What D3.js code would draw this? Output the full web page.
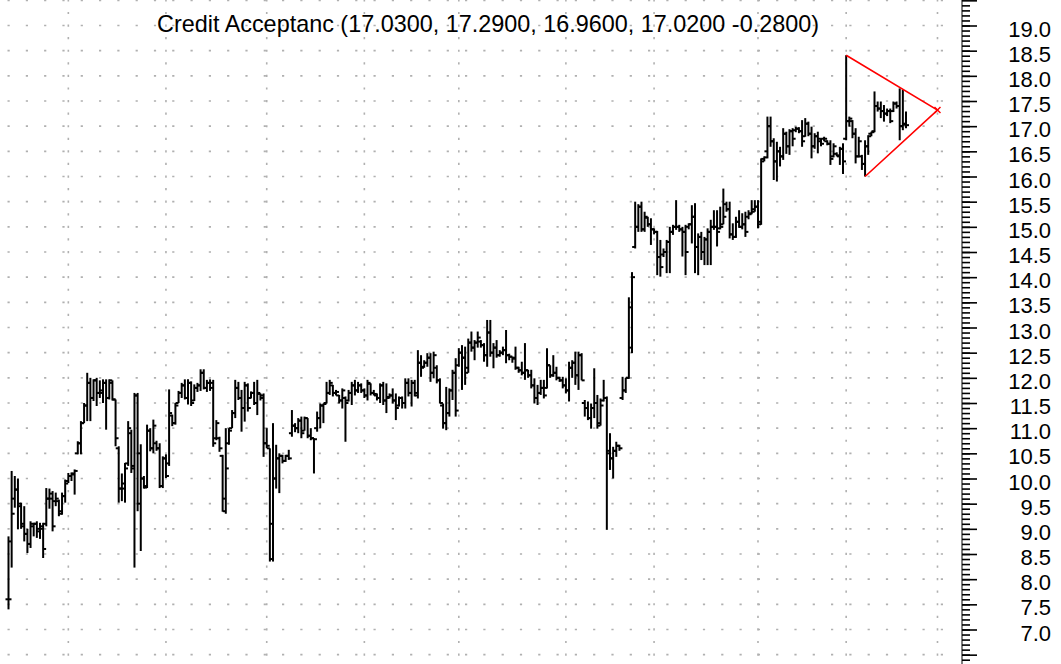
<!DOCTYPE html>
<html>
<head>
<meta charset="utf-8">
<script src="https://cdn.jsdelivr.net/npm/d3@7"></script>
<style>
  body { margin: 0; background: #fff; }
  svg { display: block; }
  text { font-family: "Liberation Sans", Arial, sans-serif; }
</style>
</head>
<body>
<div id="chart"></div>
<script>
// daily bars
var opens = [
  7.60, 8.75, 9.60, 9.78, 9.45, 9.10, 8.90, 8.70, 9.05, 9.10,
  8.95, 9.00, 9.10, 9.60, 9.60, 9.55, 9.55, 9.35, 9.65, 9.95,
  10.05, 10.10, 10.50, 10.70, 11.10, 11.45, 11.90, 11.60, 11.95, 11.70,
  11.70, 11.90, 11.60, 11.90, 11.57, 10.60, 9.80, 9.80, 10.30, 10.90,
  10.25, 11.65, 10.50, 10.00, 9.85, 10.95, 10.60, 10.70, 10.60, 9.85,
  10.40, 10.30, 11.25, 11.10, 11.50, 11.70, 11.85, 11.60, 11.90, 11.55,
  11.80, 11.85, 12.10, 11.80, 11.90, 11.90, 10.80, 10.80, 10.45, 9.35,
  10.70, 11.00, 11.30, 11.80, 11.60, 11.40, 11.85, 11.60, 11.70, 11.50,
  11.68, 11.65, 10.70, 10.60, 8.40, 10.00, 10.40, 10.45, 10.35, 10.45,
  10.90, 11.05, 11.00, 11.15, 10.95, 11.20, 10.85, 10.80, 11.00, 11.20,
  11.45, 11.50, 11.70, 11.85, 11.70, 11.65, 11.55, 11.60, 11.55, 11.70,
  11.85, 11.75, 11.85, 11.75, 11.65, 11.88, 11.70, 11.65, 11.60, 11.85,
  11.55, 11.62, 11.65, 11.55, 11.45, 11.60, 11.50, 11.90, 11.70, 11.90,
  11.65, 12.30, 12.22, 12.30, 12.40, 12.10, 12.20, 11.95, 11.45, 11.10,
  11.30, 11.75, 12.10, 12.25, 12.50, 12.40, 12.20, 12.70, 12.60, 12.70,
  12.72, 12.65, 12.45, 12.90, 12.50, 12.60, 12.45, 12.50, 12.55, 12.45,
  12.42, 12.40, 12.20, 12.15, 12.10, 12.15, 12.05, 11.85, 11.60, 11.70,
  11.80, 11.80, 12.25, 12.05, 12.10, 12.00, 11.95, 11.85, 11.75, 12.20,
  12.30, 12.05, 12.45, 11.50, 11.40, 11.20, 11.40, 11.50, 11.10, 11.55,
  11.60, 10.50, 10.40, 10.55, 10.65, 11.60, 11.75, 12.00, 12.60, 14.60,
  15.00, 15.40, 14.95, 15.18, 15.05, 14.95, 14.90, 14.40, 14.45, 14.50,
  14.70, 14.90, 15.00, 15.00, 14.95, 14.90, 15.00, 15.05, 15.20, 14.60,
  14.80, 14.50, 14.75, 14.90, 15.00, 15.00, 14.97, 15.05, 15.45, 15.35,
  14.85, 14.80, 15.10, 15.00, 15.05, 15.20, 15.27, 15.35, 15.40, 15.10,
  16.35, 16.50, 17.00, 16.70, 16.30, 16.50, 16.40, 16.85, 16.60, 16.90,
  16.92, 16.95, 16.90, 16.80, 17.05, 16.85, 16.60, 16.80, 16.70, 16.75,
  16.70, 16.65, 16.40, 16.45, 16.40, 16.55, 16.75, 17.10, 17.10, 16.85,
  16.40, 16.40, 16.25, 16.60, 16.85, 16.90, 17.40, 17.35, 17.30, 17.25,
  17.30, 17.30, 17.45, 17.40, 17.00, 17.03
];
var highs = [
  8.85, 10.15, 10.05, 10.00, 9.52, 9.45, 9.00, 9.15, 9.12, 9.15,
  9.12, 9.12, 9.81, 9.80, 9.75, 9.72, 9.58, 9.72, 9.98, 10.11,
  10.12, 10.18, 10.74, 11.14, 11.50, 12.10, 12.00, 11.97, 12.00, 11.95,
  11.97, 11.97, 11.97, 11.95, 11.57, 10.64, 10.10, 10.31, 11.14, 10.97,
  11.70, 11.70, 10.68, 10.05, 11.07, 11.00, 11.17, 10.75, 10.70, 10.44,
  10.48, 11.77, 11.27, 11.50, 11.74, 11.90, 11.97, 11.97, 11.93, 11.87,
  11.90, 12.17, 12.17, 11.96, 11.97, 11.96, 11.16, 10.83, 10.47, 11.00,
  11.00, 11.36, 11.96, 11.92, 11.76, 11.92, 11.89, 11.73, 11.92, 11.96,
  11.69, 11.69, 11.00, 10.60, 11.10, 10.67, 10.50, 10.47, 10.47, 10.57,
  11.36, 11.10, 11.20, 11.23, 11.23, 11.20, 11.00, 10.80, 11.33, 11.49,
  11.49, 11.92, 11.96, 11.86, 11.76, 11.66, 11.79, 11.63, 11.76, 11.92,
  11.96, 11.92, 11.89, 11.79, 11.96, 11.89, 11.76, 11.69, 11.89, 11.92,
  11.89, 11.69, 11.79, 11.69, 11.63, 11.63, 11.99, 11.99, 11.96, 11.96,
  12.55, 12.45, 12.35, 12.49, 12.49, 12.52, 12.25, 11.99, 11.49, 11.82,
  11.79, 12.16, 12.39, 12.59, 12.65, 12.62, 12.78, 12.92, 12.75, 12.92,
  12.75, 12.69, 13.15, 13.15, 12.69, 12.75, 12.55, 12.62, 12.95, 12.48,
  12.42, 12.62, 12.22, 12.32, 12.69, 12.16, 12.16, 11.99, 11.86, 11.96,
  11.96, 12.59, 12.25, 12.45, 12.22, 12.02, 12.02, 11.99, 12.32, 12.35,
  12.52, 12.52, 12.49, 11.56, 11.53, 11.49, 12.19, 11.66, 11.59, 11.96,
  11.63, 10.90, 10.63, 10.73, 10.67, 12.02, 12.00, 13.60, 14.10, 15.50,
  15.45, 15.50, 15.30, 15.20, 15.17, 14.97, 14.92, 14.74, 14.57, 14.74,
  15.00, 15.04, 15.53, 15.04, 15.00, 15.04, 15.07, 15.43, 15.47, 14.87,
  14.90, 14.80, 14.97, 15.14, 15.33, 15.33, 15.40, 15.76, 15.50, 15.50,
  15.07, 15.20, 15.33, 15.27, 15.30, 15.33, 15.53, 15.53, 15.53, 16.36,
  16.40, 17.19, 17.19, 16.76, 16.69, 16.59, 16.96, 16.89, 16.94, 16.96,
  16.99, 16.98, 17.12, 17.16, 17.09, 16.99, 16.86, 16.89, 16.76, 16.79,
  16.72, 16.72, 16.66, 16.48, 16.59, 16.66, 18.41, 17.19, 17.12, 16.96,
  16.79, 16.43, 16.72, 16.82, 16.89, 17.69, 17.49, 17.49, 17.42, 17.35,
  17.35, 17.49, 17.49, 17.75, 17.72, 17.29
];
var lows = [
  7.40, 8.23, 9.42, 8.99, 9.00, 8.75, 8.52, 8.62, 8.85, 8.82,
  8.80, 8.42, 9.05, 9.40, 8.95, 9.45, 9.25, 9.28, 9.52, 9.91,
  9.95, 9.68, 10.48, 10.48, 11.10, 11.14, 11.14, 11.54, 11.44, 11.60,
  11.50, 10.97, 11.57, 11.55, 10.64, 9.52, 9.55, 9.52, 10.25, 10.11,
  8.23, 9.35, 8.56, 9.80, 9.81, 10.54, 10.50, 10.55, 9.81, 9.81,
  10.01, 10.25, 11.04, 11.07, 11.50, 11.60, 11.57, 11.47, 11.44, 11.54,
  11.72, 11.74, 11.77, 11.72, 11.74, 10.63, 10.76, 10.53, 9.34, 9.30,
  10.67, 11.00, 11.20, 11.56, 10.93, 11.13, 11.33, 11.59, 11.46, 11.26,
  11.55, 10.43, 10.60, 8.35, 8.35, 9.80, 9.71, 10.30, 10.33, 10.37,
  10.83, 10.92, 10.90, 10.80, 10.95, 10.80, 10.76, 10.10, 10.93, 11.00,
  11.10, 11.49, 11.66, 11.63, 11.65, 11.49, 11.39, 10.73, 11.53, 11.46,
  11.65, 11.70, 11.70, 11.60, 11.55, 11.65, 11.65, 11.55, 11.50, 11.46,
  11.30, 11.59, 11.49, 11.16, 11.43, 11.39, 11.39, 11.63, 11.43, 11.63,
  11.59, 12.02, 12.20, 12.22, 11.92, 11.99, 11.89, 11.49, 10.99, 10.96,
  11.23, 11.56, 11.23, 12.22, 11.76, 11.86, 12.10, 12.52, 12.35, 12.60,
  12.60, 12.32, 12.22, 12.42, 12.19, 12.40, 12.42, 12.45, 12.29, 12.35,
  12.30, 12.16, 12.10, 12.05, 11.96, 12.00, 11.79, 11.49, 11.46, 11.66,
  11.59, 11.79, 12.00, 12.02, 11.95, 11.92, 11.79, 11.69, 11.53, 12.00,
  11.86, 11.76, 11.95, 11.23, 11.16, 10.99, 11.20, 10.99, 11.05, 11.53,
  8.98, 10.17, 10.00, 10.43, 10.55, 11.56, 11.70, 11.98, 12.49, 14.57,
  14.90, 14.90, 14.90, 15.00, 14.64, 14.85, 14.04, 14.01, 14.40, 14.08,
  14.08, 14.84, 14.94, 14.90, 14.41, 14.04, 14.95, 14.67, 14.08, 14.04,
  14.34, 14.24, 14.24, 14.24, 14.94, 14.61, 14.95, 15.05, 15.30, 14.77,
  14.74, 14.78, 14.98, 14.95, 14.80, 15.15, 15.25, 15.30, 14.97, 15.04,
  16.30, 16.36, 16.59, 15.93, 15.90, 16.20, 16.33, 16.45, 16.43, 16.60,
  16.88, 16.86, 16.59, 16.79, 16.80, 16.36, 16.55, 16.46, 16.60, 16.70,
  16.62, 16.23, 16.38, 16.40, 16.23, 16.05, 16.72, 16.99, 16.76, 16.26,
  16.38, 16.13, 16.00, 16.43, 16.80, 16.88, 17.29, 17.16, 17.09, 17.20,
  17.06, 17.28, 17.35, 16.72, 16.92, 16.96
];
var closes = [
  7.60, 9.30, 9.78, 9.50, 9.05, 8.90, 8.70, 9.10, 9.10, 9.00,
  9.05, 8.60, 9.60, 9.70, 9.05, 9.60, 9.30, 9.65, 9.90, 10.05,
  10.08, 10.15, 10.70, 11.10, 11.45, 11.90, 11.60, 11.95, 11.70, 11.75,
  11.90, 11.60, 11.95, 11.57, 10.80, 9.80, 9.90, 10.20, 11.00, 10.20,
  11.65, 9.50, 10.00, 9.82, 10.95, 10.60, 11.05, 10.60, 9.85, 10.40,
  10.05, 11.30, 11.10, 11.45, 11.70, 11.85, 11.60, 11.90, 11.50, 11.80,
  11.85, 12.10, 11.80, 11.90, 11.80, 10.70, 11.10, 10.60, 9.60, 10.20,
  10.95, 11.30, 11.80, 11.60, 11.40, 11.85, 11.40, 11.70, 11.50, 11.70,
  11.60, 10.70, 10.65, 9.10, 10.00, 10.40, 10.45, 10.35, 10.45, 10.40,
  11.05, 11.00, 11.15, 10.90, 11.20, 10.85, 10.80, 10.78, 11.20, 11.45,
  11.48, 11.70, 11.90, 11.70, 11.72, 11.55, 11.75, 11.50, 11.70, 11.85,
  11.75, 11.85, 11.75, 11.65, 11.90, 11.70, 11.68, 11.60, 11.85, 11.55,
  11.60, 11.65, 11.55, 11.40, 11.60, 11.50, 11.90, 11.70, 11.90, 11.70,
  12.30, 12.20, 12.30, 12.40, 12.10, 12.45, 11.95, 11.50, 11.10, 11.30,
  11.75, 12.10, 11.35, 12.50, 12.40, 12.10, 12.70, 12.60, 12.70, 12.80,
  12.65, 12.45, 12.90, 12.50, 12.60, 12.45, 12.50, 12.55, 12.45, 12.42,
  12.38, 12.20, 12.15, 12.10, 12.15, 12.05, 11.85, 11.60, 11.70, 11.80,
  11.65, 12.25, 12.05, 12.10, 12.00, 11.95, 11.85, 11.75, 12.20, 12.30,
  12.05, 12.45, 11.95, 11.40, 11.20, 11.40, 11.50, 11.05, 11.45, 11.60,
  10.55, 10.40, 10.55, 10.65, 10.60, 11.75, 12.00, 13.40, 14.00, 15.00,
  15.40, 14.95, 15.20, 15.05, 14.95, 14.90, 14.40, 14.20, 14.50, 14.70,
  14.90, 15.00, 15.00, 14.95, 14.90, 14.50, 15.05, 15.20, 14.60, 14.80,
  14.50, 14.75, 14.90, 15.00, 15.00, 14.90, 15.00, 15.20, 15.35, 14.85,
  14.80, 15.10, 15.00, 15.05, 14.90, 15.25, 15.30, 15.40, 15.05, 16.30,
  16.38, 17.00, 16.70, 16.30, 16.50, 16.40, 16.85, 16.60, 16.90, 16.75,
  16.95, 16.90, 16.70, 17.05, 16.85, 16.60, 16.80, 16.75, 16.65, 16.75,
  16.65, 16.35, 16.60, 16.42, 16.55, 16.30, 17.10, 17.15, 16.85, 16.40,
  16.70, 16.25, 16.60, 16.80, 16.88, 17.40, 17.35, 17.30, 17.25, 17.30,
  17.10, 17.45, 17.40, 17.00, 17.05, 17.02
];

// bar index where each month starts (vertical grid lines)
var monthStarts = [19, 50, 82, 113, 143, 177, 205, 238, 266, 295];

// triangle apex (bar index, price)
var apexBar = 295, apexPrice = 17.32;

var title = "Credit Acceptanc (17.0300, 17.2900, 16.9600, 17.0200 -0.2800)";

var width = 1061, height = 664;

var svg = d3.select("#chart")
  .append("svg")
    .attr("width", width)
    .attr("height", height);

var x = d3.scaleLinear()
  .domain([0, opens.length - 1])
  .range([8.5, 906]);

var y = d3.scaleLinear()
  .domain([7, 19])
  .range([629.5, 25.5]);

// dotted grid
var rows = d3.range(13, 40).map(function(d) { return d / 2; });
svg.append("g")
  .selectAll("line")
  .data(rows)
  .enter().append("line")
    .attr("x1", 7.5)
    .attr("x2", 958)
    .attr("y1", function(d) { return y(d); })
    .attr("y2", function(d) { return y(d); })
    .attr("stroke", "#b0b0b0")
    .attr("stroke-width", 1.6)
    .attr("stroke-dasharray", "2.2,16.1");

svg.append("g")
  .selectAll("line")
  .data(monthStarts)
  .enter().append("line")
    .attr("x1", function(d) { return x(d); })
    .attr("x2", function(d) { return x(d); })
    .attr("y1", y(19.5) - 1)
    .attr("y2", height)
    .attr("stroke", "#b0b0b0")
    .attr("stroke-width", 1.6)
    .attr("stroke-dasharray", "2.2,10.38");

// right price axis
var axisX = 962;
svg.append("line")
  .attr("x1", axisX).attr("x2", axisX)
  .attr("y1", 0).attr("y2", height)
  .attr("stroke", "#000");

svg.append("g")
  .attr("transform", "translate(" + axisX + ",0)")
  .call(d3.axisRight(y)
    .tickValues(d3.range(64, 195).map(function(d) { return d / 10; }))
    .tickSize(8)
    .tickSizeOuter(0)
    .tickFormat(""));

var major = svg.append("g")
  .attr("transform", "translate(" + axisX + ",0)")
  .call(d3.axisRight(y)
    .tickValues(rows)
    .tickSize(15)
    .tickSizeOuter(0)
    .tickFormat(function(d) { return (d >= 7 && d <= 19) ? d3.format(".1f")(d) : ""; }));

svg.selectAll(".domain").remove();
svg.selectAll(".tick line").attr("stroke", "#000").attr("stroke-width", 1.6);
major.selectAll("text")
  .attr("x", 1051 - axisX)
  .attr("dy", "0.48em")
  .attr("text-anchor", "end")
  .attr("fill", "#000")
  .style("font-size", "22px")
  .style("font-family", "'Liberation Sans', Arial, sans-serif");

// OHLC bars
var idx = d3.range(opens.length);
var bars = svg.append("g")
  .attr("stroke", "#000")
  .attr("stroke-width", 2);

bars.selectAll(".hl")
  .data(idx)
  .enter().append("line")
    .attr("x1", function(i) { return x(i); })
    .attr("x2", function(i) { return x(i); })
    .attr("y1", function(i) { return y(highs[i]); })
    .attr("y2", function(i) { return y(lows[i]); });

bars.selectAll(".op")
  .data(idx)
  .enter().append("line")
    .attr("x1", function(i) { return x(i) - 3; })
    .attr("x2", function(i) { return x(i); })
    .attr("y1", function(i) { return y(opens[i]); })
    .attr("y2", function(i) { return y(opens[i]); });

bars.selectAll(".cl")
  .data(idx)
  .enter().append("line")
    .attr("x1", function(i) { return x(i); })
    .attr("x2", function(i) { return x(i) + 3; })
    .attr("y1", function(i) { return y(closes[i]); })
    .attr("y2", function(i) { return y(closes[i]); });

// symmetrical triangle
var topBar = d3.maxIndex(highs);
var botBar = topBar + d3.minIndex(lows.slice(topBar));
var tri = [
  [x(topBar), y(highs[topBar])],
  [x(apexBar), y(apexPrice)],
  [x(botBar), y(lows[botBar])]
];
svg.append("path")
  .attr("d", d3.line()(tri))
  .attr("fill", "none")
  .attr("stroke", "#ff0000")
  .attr("stroke-width", 1.6);

svg.append("path")
  .attr("d", "M" + (x(apexBar) - 3) + "," + (y(apexPrice) - 3) + "l6,6M" + (x(apexBar) - 3) + "," + (y(apexPrice) + 3) + "l6,-6")
  .attr("stroke", "#ff0000")
  .attr("stroke-width", 1.4);

// title
svg.append("text")
  .attr("x", 488)
  .attr("y", 32)
  .attr("text-anchor", "middle")
  .style("font-size", "23.4px")
  .attr("fill", "#000")
  .text(title);
</script>
</body>
</html>
